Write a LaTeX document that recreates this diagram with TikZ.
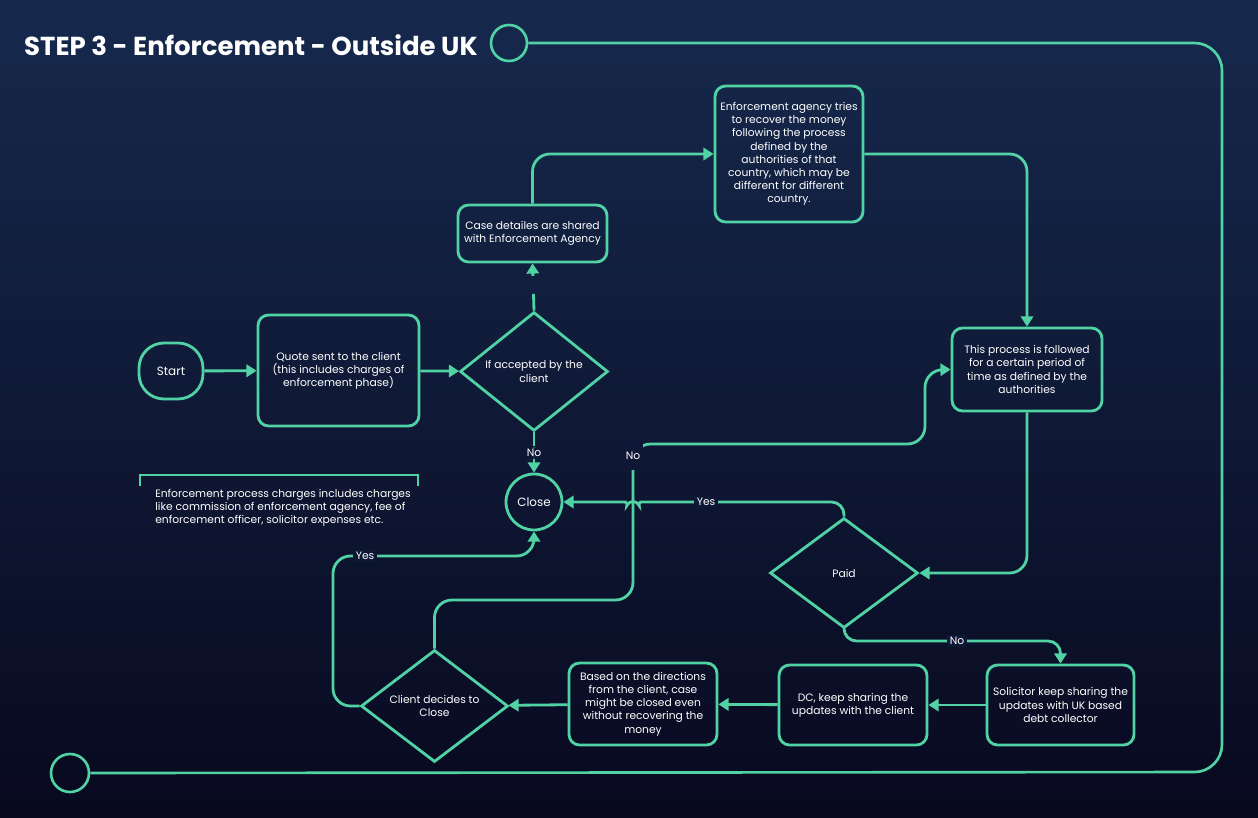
\documentclass[tikz,border=0pt]{standalone}
\usepackage{fontspec}
\setmainfont{Poppins}
\usepackage{tikz}
\usetikzlibrary{shapes, arrows.meta, positioning, calc}
\definecolor{flowteal}{RGB}{80, 210, 165}
\definecolor{bgtop}{RGB}{22, 41, 77}
\definecolor{bgbot}{RGB}{8, 9, 31}
\definecolor{bgmid}{RGB}{14, 24, 54}

\begin{document}
\begin{tikzpicture}[
  x=0.02cm, y=-0.02cm,
  every node/.style={text=white},
  stepbox/.style={draw=flowteal, line width=1.6pt, rounded corners=6pt, align=center, inner sep=2pt, font=\fontsize{6.1}{7.5}\selectfont},
  decision/.style={draw=flowteal, line width=1.6pt, diamond, inner sep=0pt, align=center, font=\fontsize{6.1}{7.5}\selectfont},
  flow/.style={draw=flowteal, line width=1.6pt, rounded corners=0.35cm, -{Triangle[length=5.8pt, width=7pt]}},
  flowlabel/.style={fill=bgmid, inner sep=1.5pt, font=\fontsize{6.1}{7}\selectfont}
]
  % background
  \fill[top color=bgtop, bottom color=bgbot] (0,0) rectangle (1258,818);
  \useasboundingbox (0,0) rectangle (1258,818);

  % title and frame
  \node[anchor=west, font=\bfseries\fontsize{14.8}{17}\selectfont] (title) at (18,45) {STEP 3 - Enforcement - Outside UK};
  \node[draw=flowteal, line width=1.5pt, circle, minimum size=0.72cm, inner sep=0pt] (topring) at (509,43) {};
  \node[draw=flowteal, line width=1.5pt, circle, minimum size=0.76cm, inner sep=0pt] (endring) at (70,773) {};
  \draw[flowteal, line width=1.5pt, rounded corners=0.55cm] (topring.east) -- (1222,43) -- (1222,772) -- (endring.east);

  % nodes
  \node[stepbox, rounded corners=0.5cm, minimum width=1.28cm, minimum height=1.12cm, font=\fontsize{6.8}{8}\selectfont] (start) at (171,371) {Start};
  \node[stepbox, minimum width=3.22cm, minimum height=2.22cm] (quote) at (338.5,370.5) {Quote sent to the client\\(this includes charges of\\enforcement phase)};
  \node[decision, minimum width=2.96cm, minimum height=2.26cm] (accepted) at (534,371.5) {If accepted by the\\client};
  \node[stepbox, minimum width=2.98cm, minimum height=1.14cm] (shared) at (532.5,233.5) {Case detailes are shared\\with Enforcement Agency};
  \node[stepbox, minimum width=2.96cm, minimum height=2.72cm] (agency) at (789,154) {Enforcement agency tries\\to recover the money\\following the process\\defined by the\\authorities of that\\country, which may be\\different for different\\country.};
  \node[stepbox, minimum width=3.0cm, minimum height=1.66cm] (period) at (1027,369.5) {This process is followed\\for a certain period of\\time as defined by the\\authorities};
  \node[draw=flowteal, line width=1.6pt, circle, minimum size=1.12cm, inner sep=0pt, font=\fontsize{6.8}{8}\selectfont] (close) at (534,502) {Close};
  \node[decision, minimum width=2.96cm, minimum height=2.2cm] (paid) at (844,573) {Paid};
  \node[stepbox, minimum width=2.94cm, minimum height=1.6cm] (solicitor) at (1060.5,705) {Solicitor keep sharing the\\updates with UK based\\debt collector};
  \node[stepbox, minimum width=2.96cm, minimum height=1.6cm] (dcshare) at (853,705) {DC, keep sharing the\\updates with the client};
  \node[stepbox, minimum width=2.96cm, minimum height=1.64cm] (directions) at (643,704) {Based on the directions\\from the client, case\\might be closed even\\without recovering the\\money};
  \node[decision, minimum width=2.94cm, minimum height=2.24cm] (decides) at (434.5,706) {Client decides to\\Close};

  % note
  \draw[flowteal, line width=1.5pt] (140,486) -- (140,475) -- (418,475) -- (418,486);
  \node[anchor=north west, align=left, inner sep=0pt, font=\fontsize{6.1}{7.4}\selectfont] (note) at (155,489) {Enforcement process charges includes charges\\like commission of enforcement agency, fee of\\enforcement officer, solicitor expenses etc.};

  % connectors
  \draw[flow] (start) -- (quote);
  \draw[flow] (quote) -- (accepted);
  \draw[flow, dash pattern=on 9.6pt off 10.2pt on 30pt] (accepted.north) -- (shared.south);
  \draw[flow] (accepted.south) -- node[flowlabel] {No} (close.north);
  \draw[flow] (shared.north) |- (agency.west);
  \draw[flow] (agency.east) -| (period.north);
  \draw[flow] (period.south) |- (paid.east);
  \draw[flow, rounded corners=0.25cm] (paid.north) -- (844,502) -- (652,502) to[out=180, in=-60] (633,495) to[out=-120, in=0] (614,502) -- (close.east);
  \node[flowlabel] (yespaid) at (706,502) {Yes};
  \draw[flow, rounded corners=0.25cm] (paid.south) -- (844,641) -- (1060.5,641) -- (solicitor.north);
  \node[flowlabel] (nopaid) at (957,641) {No};
  \draw[flow] (solicitor) -- (dcshare);
  \draw[flow] (dcshare) -- (directions);
  \draw[flow] (directions) -- (decides);
  \draw[flow] (decides.west) -- (333,706) -- (333,556) -- (534,556) -- (close.south);
  \node[flowlabel] (yesclient) at (365,556) {Yes};
  \draw[flow] (decides.north) -- (434.5,600) -- (633,600) -- (633,444) -- (925,444) -- (925,370) -- (period.west);
  \node[flowlabel, minimum height=16pt] (noclient) at (633,456) {No};
\end{tikzpicture}
\end{document}
